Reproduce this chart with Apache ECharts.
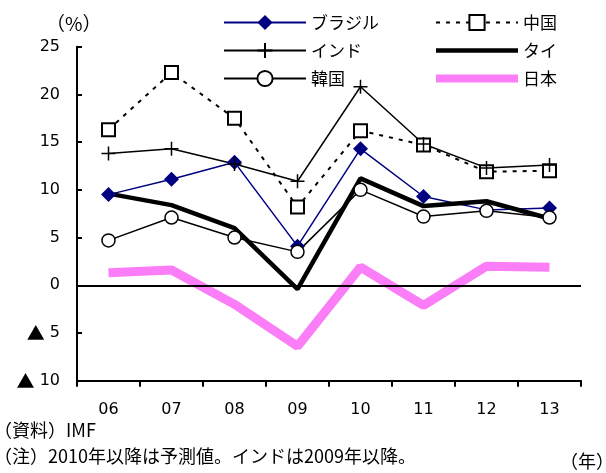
<!DOCTYPE html>
<html>
<head>
<meta charset="utf-8">
<script src="https://cdn.jsdelivr.net/npm/echarts@6/dist/echarts.min.js"></script>
<style>
  html, body { margin: 0; padding: 0; background: #fff; }
  #chart { width: 606px; height: 473px; }
</style>
</head>
<body>
<div id="chart"></div>
<script>
// Real GDP growth rates (%), 2006-2013
const years = ['06', '07', '08', '09', '10', '11', '12', '13'];
const brazil = [9.5, 11.1, 12.9, 4.1, 14.3, 9.3, 7.9, 8.1];
const china  = [16.3, 22.3, 17.5, 8.2, 16.2, 14.7, 11.9, 12.0];
const india  = [13.8, 14.3, 12.7, 10.9, 20.8, 14.8, 12.3, 12.6];
const thai   = [9.6, 8.4, 6.0, -0.4, 11.2, 8.3, 8.8, 7.0];
const korea  = [4.7, 7.1, 5.0, 3.5, 10.0, 7.2, 7.8, 7.1];
const japan  = [1.3, 1.6, -2.0, -6.4, 1.9, -2.1, 2.0, 1.9];
const yTicks = { min: -10, max: 25, step: 5 };

const FONT = "'DejaVu Sans', 'Noto Sans CJK JP', sans-serif";
const JP = "'Noto Sans CJK JP', sans-serif";
const PINK = '#fb7ef8';

const chart = echarts.init(document.getElementById('chart'), null, { renderer: 'canvas' });

const legendCommon = {
  orient: 'vertical',
  top: 13,
  padding: 0,
  itemWidth: 82,
  itemHeight: 19,
  itemGap: 9,
  selectedMode: false,
  textStyle: { fontFamily: JP, fontSize: 17, color: '#000', lineHeight: 19 }
};

chart.setOption({
  animation: false,
  backgroundColor: '#fff',
  grid: { left: 77, right: 25, top: 46.7, bottom: 92.3 },
  legend: [
    Object.assign({ left: 223, data: ['ブラジル', 'インド', '韓国'] }, legendCommon),
    Object.assign({
      left: 432,
      data: [
        '中国',
        { name: 'タイ', itemStyle: { opacity: 0 }, lineStyle: { width: 4.5 } },
        { name: '日本', itemStyle: { opacity: 0 }, lineStyle: { width: 8, cap: 'butt' } }
      ]
    }, legendCommon)
  ],
  xAxis: {
    type: 'category',
    data: years,
    boundaryGap: true,
    axisLine: { onZero: false, lineStyle: { color: '#000', width: 2 } },
    axisTick: { show: true, length: 6, lineStyle: { color: '#000', width: 2 } },
    axisLabel: { margin: 21, fontFamily: FONT, fontSize: 16, color: '#000' }
  },
  yAxis: {
    type: 'value',
    min: yTicks.min,
    max: yTicks.max,
    interval: yTicks.step,
    splitLine: { show: false },
    axisLine: { show: true, lineStyle: { color: '#000', width: 2 } },
    axisTick: { show: true, inside: true, length: 5, lineStyle: { color: '#000', width: 2 } },
    axisLabel: {
      margin: 17,
      fontFamily: FONT,
      fontSize: 16,
      color: '#000',
      formatter: v => (v < 0 ? '{t|▲} ' + Math.abs(v) : String(v)),
      rich: { t: { fontFamily: JP, fontSize: 18, color: '#000' } }
    }
  },
  graphic: [
    { type: 'text', left: 46, top: 14, style: { text: '（%）', font: '19px ' + JP, fill: '#000' } },
    { type: 'text', left: -6, top: 421, style: { text: '（資料）IMF', font: '18px ' + JP, fill: '#000' } },
    { type: 'text', left: -6, top: 447, style: { text: '（注）2010年以降は予測値。インドは2009年以降。', font: '18px ' + JP, fill: '#000' } },
    { type: 'text', right: -8, top: 452, style: { text: '（年）', font: '18px ' + JP, fill: '#000' } }
  ],
  series: [
    {
      name: 'ブラジル', type: 'line', data: brazil,
      symbol: 'diamond', symbolSize: 15,
      itemStyle: { color: '#000080' },
      lineStyle: { color: '#000080', width: 1.5 }
    },
    {
      name: '中国', type: 'line', data: china,
      symbol: 'rect', symbolSize: 13,
      itemStyle: { color: '#fff', borderColor: '#000', borderWidth: 2 },
      lineStyle: { color: '#000', width: 2, type: [4, 6] }
    },
    {
      name: 'インド', type: 'line', data: india,
      symbol: 'path://M7,0V14M0,7H14', symbolSize: 14,
      itemStyle: { color: '#000', borderColor: '#000', borderWidth: 1.5 },
      lineStyle: { color: '#000', width: 1.5 }
    },
    {
      name: 'タイ', type: 'line', data: thai,
      symbol: 'none',
      itemStyle: { color: '#000' },
      lineStyle: { color: '#000', width: 4.5 }
    },
    {
      name: '韓国', type: 'line', data: korea,
      symbol: 'circle', symbolSize: 13,
      itemStyle: { color: '#fff', borderColor: '#000', borderWidth: 1.5 },
      lineStyle: { color: '#000', width: 1.5 }
    },
    {
      name: '日本', type: 'line', data: japan,
      symbol: 'none', z: 1,
      itemStyle: { color: PINK },
      lineStyle: { color: PINK, width: 9, cap: 'butt' },
      markLine: {
        silent: true, symbol: 'none', z: 10,
        label: { show: false },
        lineStyle: { color: '#000', width: 2, type: 'solid' },
        data: [{ yAxis: 0 }]
      }
    }
  ]
});
</script>
</body>
</html>
